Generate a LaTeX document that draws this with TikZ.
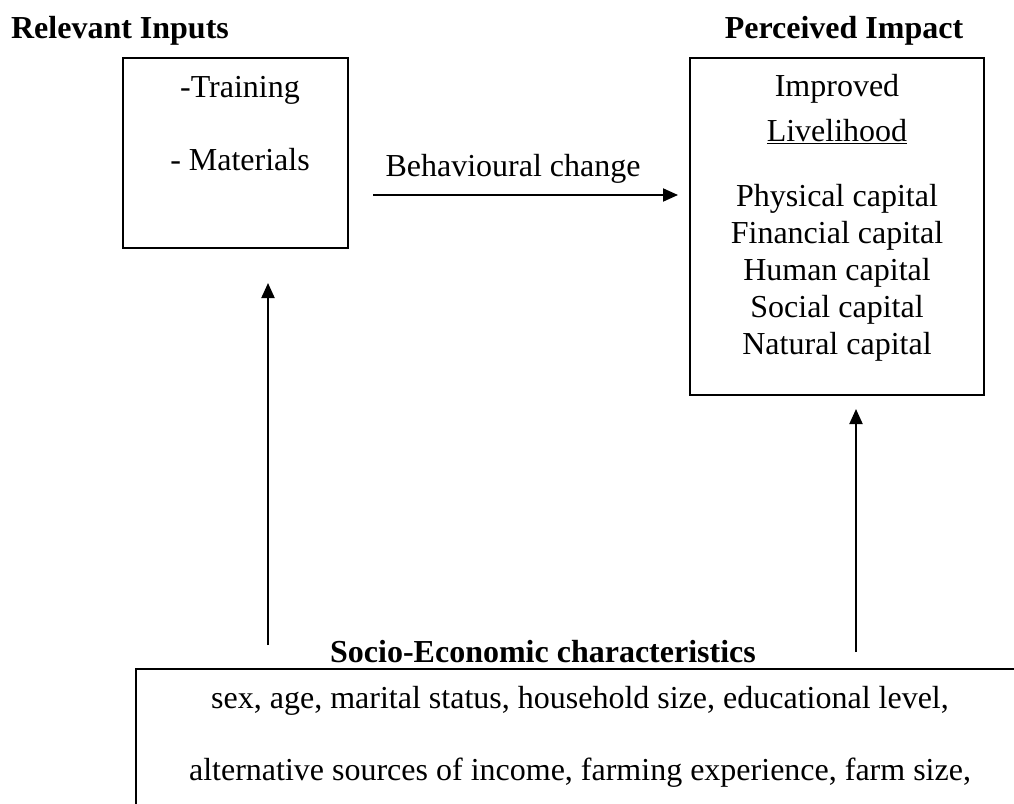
\documentclass[tikz,border=0pt]{standalone}
\usepackage{fontspec}
\setmainfont{Liberation Serif}
\usetikzlibrary{arrows.meta}
\begin{document}
\begin{tikzpicture}[x=1pt,y=-1pt,
  txt/.style={font=\fontsize{32}{37}\selectfont, inner sep=0pt, anchor=center},
  ttl/.style={font=\fontsize{32}{37}\selectfont\bfseries, inner sep=0pt, anchor=center},
  boxn/.style={draw, line width=2pt, inner sep=0pt},
  arr/.style={line width=2pt, -{Triangle[length=15pt,width=13pt]}}]
\useasboundingbox (0,0) rectangle (1014,803);
\clip (0,0) rectangle (1014,803);
% titles
\node[ttl] (t1) at (120,31) {Relevant Inputs};
\node[ttl] (t2) at (844,31) {Perceived Impact};
% left box
\node[boxn, minimum width=225pt, minimum height=190pt] (lbox) at (235.5,153) {};
\node[txt] (tr) at (240,90) {-Training};
\node[txt] (ma) at (240,160) {- Materials};
% right box
\node[boxn, minimum width=294pt, minimum height=337pt] (rbox) at (837,226.5) {};
\node[txt] (r1) at (837,89) {Improved};
\node[txt] (r2) at (837,132) {\underline{Livelihood}};
\node[txt] (r3) at (837,199) {Physical capital};
\node[txt] (r4) at (837,236) {Financial capital};
\node[txt] (r5) at (837,273) {Human capital};
\node[txt] (r6) at (837,310) {Social capital};
\node[txt] (r7) at (837,347) {Natural capital};
% behavioural change arrow
\coordinate (bs) at (373,195);
\draw[arr, shorten >=11pt] (bs) -- (bs -| rbox.west);
\node[txt] (bc) at (513,169) {Behavioural change};
% bottom box (cut by the page)
\draw[line width=2pt] (1030,669) -- (136,669) -- (136,830);
\node[ttl] (se) at (543,652) {Socio-Economic characteristics};
\node[txt] (b1) at (580,701) {sex, age, marital status, household size, educational level,};
\node[txt] (b2) at (580,773) {alternative sources of income, farming experience, farm size,};
\coordinate (la) at (268,645);
\coordinate (ra) at (856,652);
\draw[arr, shorten >=34pt] (la) -- (la |- lbox.south);
\draw[arr, shorten >=13pt] (ra) -- (ra |- rbox.south);
\end{tikzpicture}
\end{document}
